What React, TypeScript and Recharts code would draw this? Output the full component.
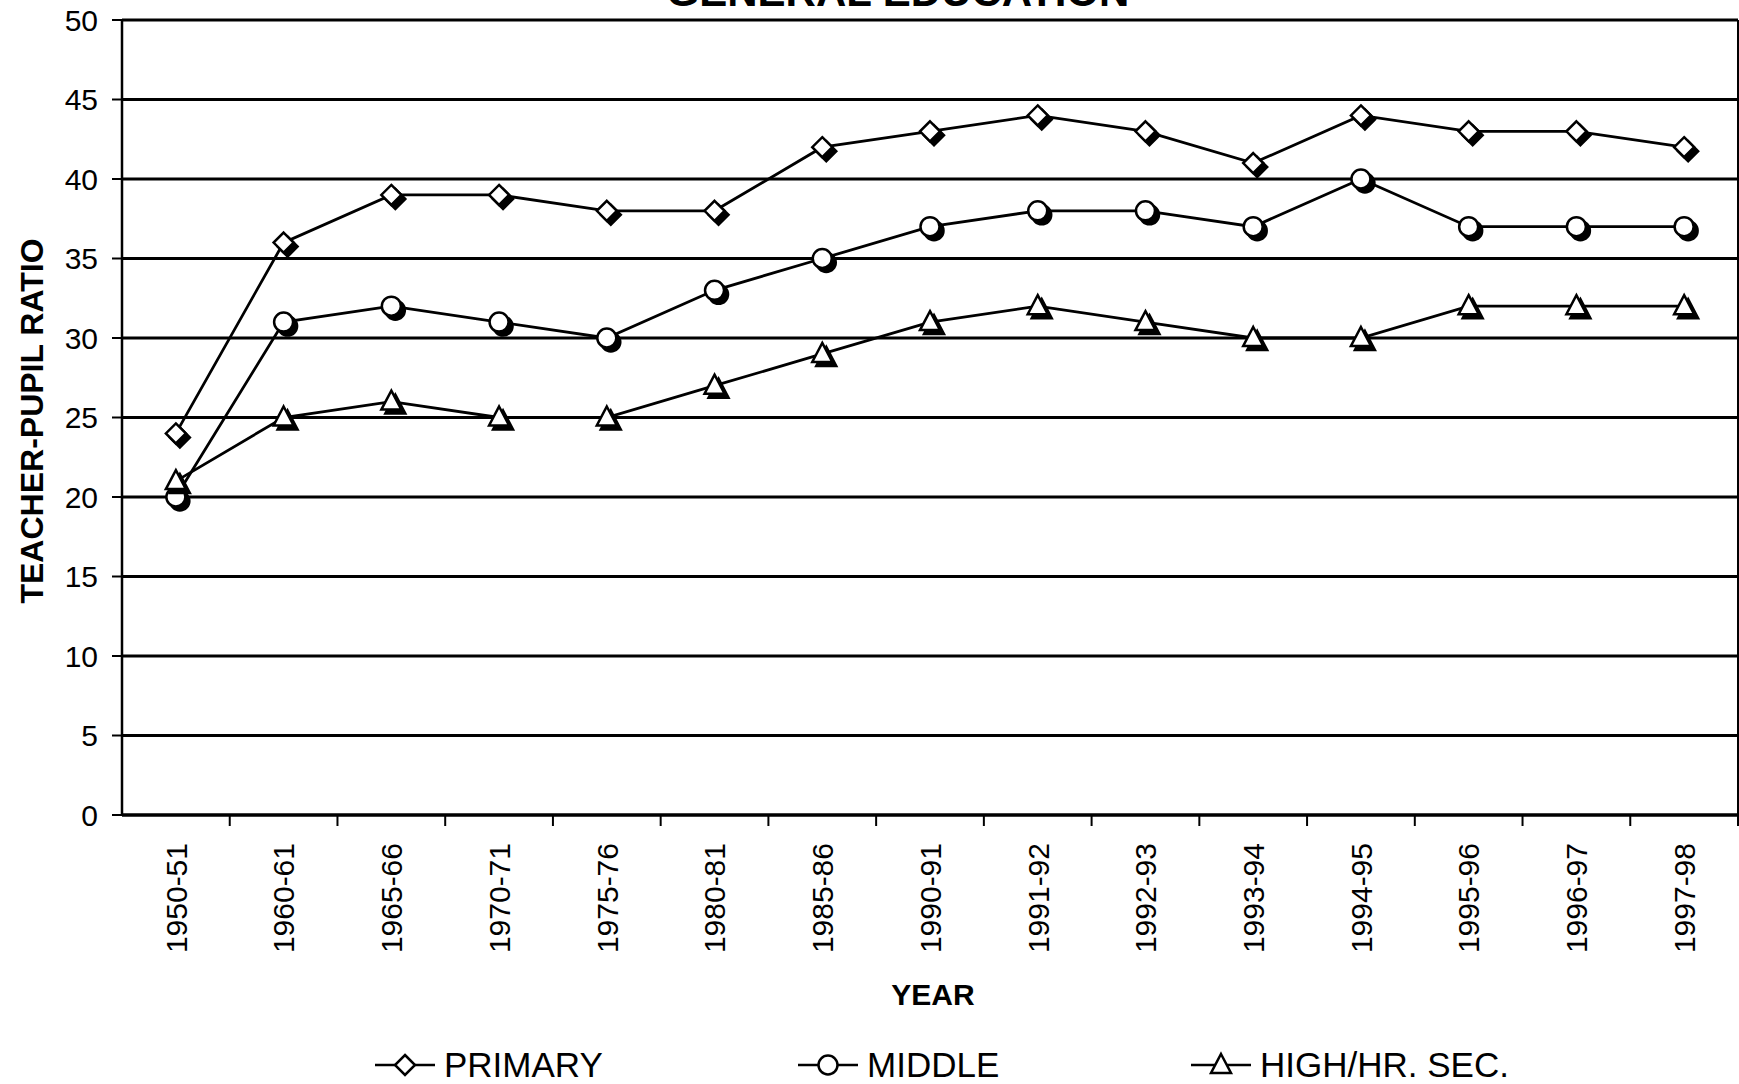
import React from 'react';
import { LineChart, Line, XAxis, YAxis, CartesianGrid } from 'recharts';

const YEARS = [
  '1950-51', '1960-61', '1965-66', '1970-71', '1975-76', '1980-81', '1985-86', '1990-91',
  '1991-92', '1992-93', '1993-94', '1994-95', '1995-96', '1996-97', '1997-98',
];
const PRIMARY = [24, 36, 39, 39, 38, 38, 42, 43, 44, 43, 41, 44, 43, 43, 42];
const MIDDLE = [20, 31, 32, 31, 30, 33, 35, 37, 38, 38, 37, 40, 37, 37, 37];
const HIGH = [21, 25, 26, 25, 25, 27, 29, 31, 32, 31, 30, 30, 32, 32, 32];
const Y_TICKS = [0, 5, 10, 15, 20, 25, 30, 35, 40, 45, 50];

const W = 1739;
const H = 1084;
const TOP = 20;
const LEFT = 122;
const PLOT_BOTTOM = 815;
const PLOT_W = W - LEFT - 1;
const HALF_BAND = PLOT_W / YEARS.length / 2;
const FONT = '"Liberation Sans", Arial, sans-serif';

const data = YEARS.map((year, i) => ({
  year,
  primary: PRIMARY[i],
  middle: MIDDLE[i],
  high: HIGH[i],
}));

type Shape = 'diamond' | 'circle' | 'triangle';

const Marker = ({ cx, cy, shape, shadow }: { cx: number; cy: number; shape: Shape; shadow: boolean }) => {
  const draw = (x: number, y: number, fill: string, stroke: string) => {
    if (shape === 'diamond') {
      return <polygon points={`${x},${y - 10} ${x + 10},${y} ${x},${y + 10} ${x - 10},${y}`} fill={fill} stroke={stroke} strokeWidth={2.5} />;
    }
    if (shape === 'circle') {
      return <circle cx={x} cy={y} r={9.5} fill={fill} stroke={stroke} strokeWidth={2.5} />;
    }
    return <polygon points={`${x},${y - 11} ${x + 10},${y + 8} ${x - 10},${y + 8}`} fill={fill} stroke={stroke} strokeWidth={2.5} />;
  };
  return (
    <g>
      {shadow && draw(cx + 4, cy + 4, '#000', '#000')}
      {draw(cx, cy, '#fff', '#000')}
    </g>
  );
};

const makeDot = (shape: Shape) => (p: any) => (
  <Marker key={`${shape}-${p.index}`} cx={p.cx} cy={p.cy} shape={shape} shadow />
);

const YearTick = ({ x, payload }: any) => (
  <g>
    <line x1={x + HALF_BAND} x2={x + HALF_BAND} y1={PLOT_BOTTOM} y2={PLOT_BOTTOM + 11} stroke="#000" strokeWidth={2} />
    <text
      transform={`translate(${x},${PLOT_BOTTOM + 28}) rotate(-90)`}
      textAnchor="end"
      dy="0.36em"
      fontSize={30}
      fontFamily={FONT}
      fill="#000"
    >
      {payload.value}
    </text>
  </g>
);

const LEGEND = [
  { label: 'PRIMARY', shape: 'diamond' as Shape, x: 375 },
  { label: 'MIDDLE', shape: 'circle' as Shape, x: 798 },
  { label: 'HIGH/HR. SEC.', shape: 'triangle' as Shape, x: 1191 },
];

export default function App() {
  return (
    <div style={{ position: 'absolute', left: 0, top: 0, width: W, height: H, background: '#fff' }}>
      <LineChart width={W} height={H} data={data} margin={{ top: TOP, right: 0, left: 0, bottom: 0 }}>
        <CartesianGrid horizontal vertical={false} stroke="#000" strokeWidth={3} />
        <XAxis
          dataKey="year"
          height={H - PLOT_BOTTOM}
          padding={{ left: HALF_BAND, right: HALF_BAND }}
          axisLine={{ stroke: '#000', strokeWidth: 3 }}
          tickLine={false}
          tick={<YearTick />}
          interval={0}
        />
        <YAxis
          width={LEFT}
          domain={[0, 50]}
          ticks={Y_TICKS}
          interval={0}
          axisLine={{ stroke: '#000', strokeWidth: 2.5 }}
          tickLine={{ stroke: '#000', strokeWidth: 2 }}
          tickSize={10}
          tickMargin={14}
          tick={{ fill: '#000', fontSize: 30, fontFamily: FONT }}
        />
        <YAxis yAxisId="right" orientation="right" width={1} tick={false} tickLine={false} axisLine={{ stroke: '#000', strokeWidth: 2 }} />
        <Line dataKey="primary" stroke="#000" strokeWidth={2.8} dot={makeDot('diamond')} isAnimationActive={false} />
        <Line dataKey="middle" stroke="#000" strokeWidth={2.8} dot={makeDot('circle')} isAnimationActive={false} />
        <Line dataKey="high" stroke="#000" strokeWidth={2.8} dot={makeDot('triangle')} isAnimationActive={false} />
      </LineChart>
      <svg width={W} height={H} style={{ position: 'absolute', left: 0, top: 0, pointerEvents: 'none' }} fontFamily={FONT}>
        <text x={898} y={6} textAnchor="middle" fontSize={42} fontWeight="bold">GENERAL EDUCATION</text>
        <text transform={`translate(31,421) rotate(-90)`} textAnchor="middle" dy="0.36em" fontSize={32} fontWeight="bold">
          TEACHER-PUPIL RATIO
        </text>
        <text x={933} y={1005} textAnchor="middle" fontSize={30} fontWeight="bold">YEAR</text>
        {LEGEND.map((item) => (
          <g key={item.label}>
            <line x1={item.x} x2={item.x + 60} y1={1065} y2={1065} stroke="#000" strokeWidth={2.5} />
            <Marker cx={item.x + 30} cy={1065} shape={item.shape} shadow={false} />
            <text x={item.x + 69} y={1077} fontSize={35}>{item.label}</text>
          </g>
        ))}
      </svg>
    </div>
  );
}
